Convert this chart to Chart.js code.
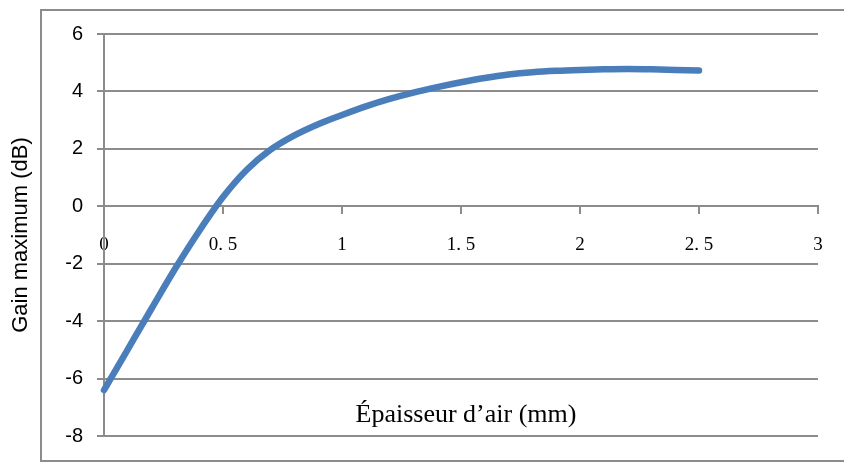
<!DOCTYPE html>
<html>
<head>
<meta charset="utf-8">
<script src="https://cdn.jsdelivr.net/npm/chart.js@4/dist/chart.umd.min.js"></script>
<style>
  html, body { margin: 0; padding: 0; background: #ffffff; }
  #wrap { width: 844px; height: 462px; }
</style>
</head>
<body>
<div id="wrap"><canvas id="c" width="844" height="462"></canvas></div>
<script>
// ---- data ----
const airThickness = [0, 0.1, 0.2, 0.3, 0.4, 0.5, 0.6, 0.7, 0.8, 0.9, 1.0, 1.1, 1.2, 1.3, 1.4, 1.5, 1.6, 1.7, 1.8, 1.9, 2.0, 2.1, 2.2, 2.3, 2.4, 2.5];
const maxGain = [-6.40, -4.98, -3.56, -2.16, -0.86, 0.32, 1.27, 1.97, 2.47, 2.86, 3.18, 3.48, 3.74, 3.96, 4.15, 4.32, 4.47, 4.59, 4.67, 4.72, 4.75, 4.77, 4.78, 4.77, 4.75, 4.73];
const xTickValues = [0, 0.5, 1, 1.5, 2, 2.5, 3];
const xTickLabels = ['0', '0. 5', '1', '1. 5', '2', '2. 5', '3'];
const yTickValues = [-8, -6, -4, -2, 0, 2, 4, 6];
const yTitle = 'Gain maximum (dB)';
const xTitle = '\u00C9paisseur d\u2019air (mm)';

const gridColor = '#8c8c8c';

const decorPlugin = {
  id: 'decor',
  beforeDraw(chart) {
    const ctx = chart.ctx;
    ctx.save();
    ctx.fillStyle = '#ffffff';
    ctx.fillRect(0, 0, chart.width, chart.height);
    ctx.strokeStyle = gridColor;
    ctx.lineWidth = 2;
    ctx.strokeRect(41, 10, 900, 451);
    ctx.restore();
  },
  afterDraw(chart) {
    const ctx = chart.ctx;
    const xs = chart.scales.x, ys = chart.scales.y;
    ctx.save();
    ctx.font = '26px "Liberation Serif", "Times New Roman", serif';
    ctx.fillStyle = '#000000';
    ctx.textAlign = 'center';
    ctx.textBaseline = 'alphabetic';
    ctx.fillText(xTitle, (xs.left + xs.right) / 2 + 5, ys.getPixelForValue(-7.5));
    ctx.restore();
  }
};

new Chart(document.getElementById('c'), {
  type: 'line',
  data: {
    labels: airThickness,
    datasets: [{
      data: airThickness.map((x, i) => ({ x: x, y: maxGain[i] })),
      borderColor: '#4a7ebb',
      borderWidth: 6.5,
      pointRadius: 0,
      cubicInterpolationMode: 'monotone',
      borderCapStyle: 'round',
      borderJoinStyle: 'round',
      fill: false,
      clip: false
    }]
  },
  options: {
    responsive: false,
    animation: false,
    devicePixelRatio: 1,
    layout: { padding: { left: 0, right: 26, top: 34, bottom: 26 } },
    plugins: { legend: { display: false }, tooltip: { enabled: false } },
    scales: {
      x: {
        type: 'linear',
        min: 0, max: 3,
        position: { y: 0 },
        afterBuildTicks: (s) => { s.ticks = xTickValues.map(v => ({ value: v })); },
        ticks: {
          callback: (v) => { const i = xTickValues.indexOf(v); return i >= 0 ? xTickLabels[i] : ''; },
          font: { family: '"Liberation Serif", "Times New Roman", serif', size: 19 },
          color: '#000000',
          padding: 20,
          maxRotation: 0,
          autoSkip: false
        },
        grid: { drawOnChartArea: false, drawTicks: true, tickLength: 7, color: gridColor, lineWidth: 2 },
        border: { display: true, color: gridColor, width: 2 }
      },
      y: {
        type: 'linear',
        min: -8, max: 6,
        position: 'left',
        afterBuildTicks: (s) => { s.ticks = yTickValues.map(v => ({ value: v })); },
        afterFit: (s) => { s.width = 104; },
        ticks: {
          font: { family: '"Liberation Sans", Arial, sans-serif', size: 20 },
          color: '#000000',
          padding: 14
        },
        grid: { color: gridColor, lineWidth: 2, tickLength: 7, drawTicks: true },
        border: { display: true, color: gridColor, width: 2 },
        title: {
          display: true,
          text: yTitle,
          font: { family: '"Liberation Sans", Arial, sans-serif', size: 22 },
          color: '#000000',
          padding: { top: 8, bottom: 0 }
        }
      }
    }
  },
  plugins: [decorPlugin]
});
</script>
</body>
</html>
